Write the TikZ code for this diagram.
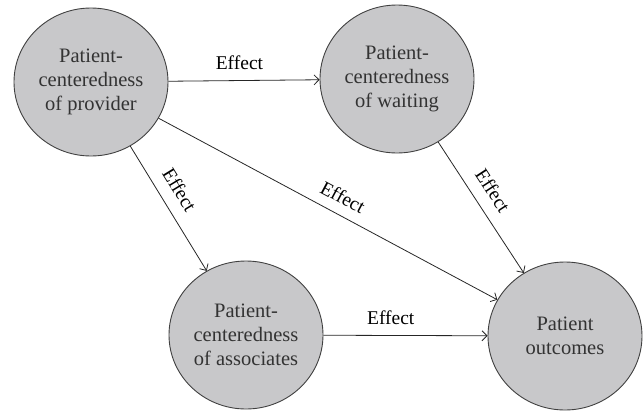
\documentclass[tikz,border=0pt]{standalone}
\usepackage{fontspec}
\setmainfont{Liberation Serif}
\usetikzlibrary{shapes.geometric,arrows.meta}
\definecolor{nodegray}{RGB}{200,200,202}
\tikzset{
  factor/.style={ellipse, draw=black!75, fill=nodegray, line width=0.9pt,
    minimum width=154pt, minimum height=148pt, inner sep=0pt, align=center,
    font=\fontsize{20.5}{24}\selectfont, text=black!80},
  effect/.style={->, >={Straight Barb[length=5pt,width=10pt]}, line width=0.8pt, draw=black!85},
  elabel/.style={font=\fontsize{19.5}{22}\selectfont, inner sep=3pt, text=black}
}
\begin{document}
\begin{tikzpicture}[x=1pt,y=-1pt]
\useasboundingbox (0,0) rectangle (643,410);
% the four factors
\node[factor] (provider) at (91,82) {Patient-\\centeredness\\of provider};
\node[factor] (waiting) at (397,79) {Patient-\\centeredness\\of waiting};
\node[factor] (associates) at (246,335) {Patient-\\centeredness\\of associates};
\node[factor] (outcomes) at (565,336) {Patient\\outcomes};
% effects
\draw[effect] (provider) -- node[pos=0.47, above=7pt, elabel]{Effect} (waiting);
\draw[effect] (provider) -- node[pos=0.43, above=9pt, sloped, elabel]{Effect} (associates);
\draw[effect] (provider) -- node[pos=0.52, above=7pt, sloped, elabel]{Effect} (outcomes);
\draw[effect] (waiting) -- node[pos=0.45, above=9pt, sloped, elabel]{Effect} (outcomes);
\draw[effect] (associates) -- node[pos=0.41, above=7pt, elabel]{Effect} (outcomes);
\end{tikzpicture}
\end{document}
